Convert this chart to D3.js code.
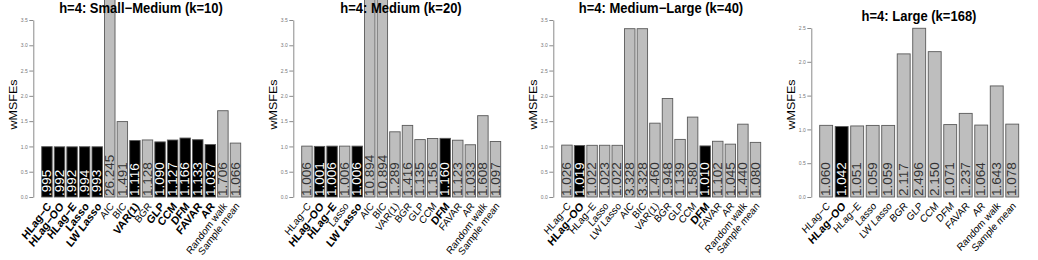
<!DOCTYPE html>
<html><head><meta charset="utf-8">
<script src="https://cdn.jsdelivr.net/npm/d3@7"></script>
<style>body{margin:0;background:#fff} svg{display:block;font-family:"Liberation Sans",Arial,Helvetica,sans-serif}</style>
</head><body><svg id="c" width="1038" height="260"></svg>
<script>
const titles = ["h=4: Small\u2212Medium (k=10)", "h=4: Medium (k=20)", "h=4: Medium\u2212Large (k=40)", "h=4: Large (k=168)"];
const methodsA = ["HLag\u2212C","HLag\u2212OO","HLag\u2212E","Lasso","LW Lasso","AIC","BIC","VAR(1)","BGR","GLP","CCM","DFM","FAVAR","AR","Random walk","Sample mean"];
const methodsB = ["HLag\u2212C","HLag\u2212OO","HLag\u2212E","Lasso","LW Lasso","BGR","GLP","CCM","DFM","FAVAR","AR","Random walk","Sample mean"];
const valuesSM = [0.995,0.992,0.992,0.994,0.993,26.245,1.491,1.116,1.128,1.090,1.127,1.166,1.133,1.037,1.706,1.066];
const valuesM  = [1.006,1.001,1.006,1.006,1.006,10.894,10.894,1.289,1.416,1.135,1.156,1.160,1.123,1.033,1.608,1.097];
const valuesML = [1.026,1.019,1.022,1.023,1.022,3.328,3.328,1.460,1.948,1.139,1.580,1.010,1.102,1.045,1.440,1.080];
const valuesL  = [1.060,1.042,1.051,1.059,1.059,2.117,2.496,2.150,1.071,1.237,1.064,1.643,1.078];
const bestSM = ["HLag\u2212C","HLag\u2212OO","HLag\u2212E","Lasso","LW Lasso","VAR(1)","GLP","CCM","DFM","FAVAR","AR"];
const bestM  = ["HLag\u2212OO","HLag\u2212E","LW Lasso","DFM"];
const bestML = ["HLag\u2212OO","DFM"];
const bestL  = ["HLag\u2212OO"];
const yTicksA = [0,0.5,1,1.5,2,2.5,3,3.5];
const yTicksB = [0,0.5,1,1.5,2,2.5];

const panels = [
  {title: titles[0], methods: methodsA, values: valuesSM, best: bestSM, ticks: yTicksA},
  {title: titles[1], methods: methodsA, values: valuesM,  best: bestM,  ticks: yTicksA},
  {title: titles[2], methods: methodsA, values: valuesML, best: bestML, ticks: yTicksA},
  {title: titles[3], methods: methodsB, values: valuesL,  best: bestL,  ticks: yTicksB}
];
const offsets = [0, 260, 520, 778];
const tops = [20, 20, 20, 28];
const angles = [-50, -50, -48, -45];
const y0px = 197;
const sq = 0.9; // horizontal squeeze of glyphs

const svg = d3.select("#c");
const fmt = v => d3.format(".3f")(v).replace(/^0\./, ".");

panels.forEach((p, i) => {
  const g = svg.append("g").attr("transform", `translate(${offsets[i]},0)`);
  const x = d3.scaleBand().domain(p.methods).range([41.7, 240.7]).paddingInner(0.2/1.2).paddingOuter(0);
  const y = d3.scaleLinear().domain([0, d3.max(p.ticks)]).range([y0px, tops[i]]);
  const data = p.methods.map((m, j) => ({m, v: p.values[j], best: p.best.includes(m)}));

  // y axis
  const ax = g.append("g").attr("transform", "translate(33.3,0)")
    .call(d3.axisLeft(y).tickValues(p.ticks).tickSize(4).tickSizeOuter(0).tickPadding(1.5).tickFormat(d3.format(".1f")));
  ax.select(".domain").attr("stroke", "#8a8a8a");
  ax.selectAll(".tick line").attr("stroke", "#8a8a8a");
  ax.selectAll(".tick text").attr("fill", "#777").style("font-size", "5px").style("font-family", "inherit");

  // bars
  g.selectAll("rect.bar").data(data).join("rect")
    .attr("class", "bar")
    .attr("x", d => x(d.m))
    .attr("width", x.bandwidth())
    .attr("y", d => y(d.v))
    .attr("height", d => y0px - y(d.v))
    .attr("fill", d => d.best ? "#000" : "#bebebe")
    .attr("stroke", "#5a5a5a")
    .attr("stroke-width", 0.9);

  // value labels
  g.selectAll("text.val").data(data).join("text")
    .attr("class", "val")
    .attr("transform", d => `translate(${x(d.m) + x.bandwidth()/2},${y0px - 1}) scale(${sq},1) rotate(-90)`)
    .attr("text-anchor", "start")
    .attr("dominant-baseline", "central")
    .style("font-size", "13.5px")
    .attr("fill", d => d.best ? "#fff" : "#333")
    .text(d => fmt(d.v));

  // x labels
  g.selectAll("text.xl").data(data).join("text")
    .attr("class", "xl")
    .attr("transform", d => `translate(${x(d.m) + x.bandwidth()/2 + 2},${y0px + 7}) scale(${sq},1) rotate(${angles[i]})`)
    .attr("text-anchor", "end")
    .attr("dominant-baseline", "central")
    .style("font-size", d => d.best ? "11.5px" : "10.5px")
    .style("font-weight", d => d.best ? "bold" : "normal")
    .attr("fill", "#000")
    .text(d => d.m);

  // title
  g.append("text")
    .attr("transform", `translate(141,${tops[i] - 7}) scale(0.93,1)`)
    .attr("text-anchor", "middle")
    .style("font-size", "14px").style("font-weight", "bold")
    .text(p.title);

  // y title
  g.append("text")
    .attr("transform", `translate(13,104.5) scale(${sq},1) rotate(-90)`)
    .attr("text-anchor", "middle").attr("dominant-baseline", "central")
    .style("font-size", "12.5px")
    .text("wMSFEs");
});
</script></body></html>
